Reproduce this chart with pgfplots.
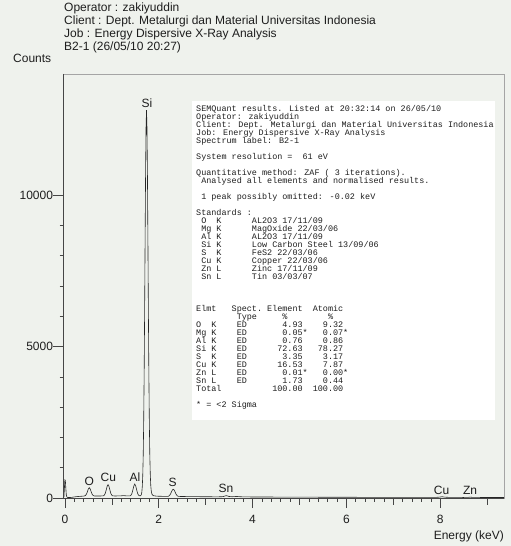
\documentclass[border=0pt]{standalone}
\usepackage{fontspec}
\setmainfont{Liberation Sans}
\newfontfamily\monofont{Liberation Mono}
\usepackage{pgfplots}
\usepackage{pgfplotstable}
\pgfplotsset{compat=1.18}
\definecolor{bgc}{RGB}{239,242,237}
\definecolor{axdark}{RGB}{70,70,70}
\definecolor{axlight}{RGB}{165,165,165}
\definecolor{txt}{RGB}{30,30,30}
\pgfplotstableread{
x y
-0.04 5
-0.03 8
-0.02 40
-0.01 320
0.00 600
0.01 580
0.02 330
0.03 110
0.04 40
0.06 18
0.10 15
0.15 22
0.20 35
0.25 45
0.30 52
0.35 58
0.40 62
0.42 70
0.44 85
0.46 128
0.48 208
0.50 298
0.52 340
0.54 298
0.56 208
0.58 128
0.60 85
0.62 70
0.64 66
0.70 66
0.76 67
0.82 71
0.84 92
0.86 151
0.88 260
0.90 383
0.92 440
0.94 383
0.96 260
0.98 151
1.00 92
1.02 71
1.06 67
1.12 68
1.20 72
1.25 80
1.30 72
1.39 72
1.41 94
1.43 156
1.45 270
1.47 400
1.49 460
1.51 400
1.53 270
1.55 156
1.57 94
1.59 74
1.60 72
1.61 75
1.62 85
1.63 110
1.64 195
1.65 375
1.66 740
1.67 1410
1.68 2510
1.69 4110
1.70 6180
1.71 8490
1.72 10670
1.73 12240
1.74 12810
1.75 12240
1.76 10670
1.77 8490
1.78 6180
1.79 4130
1.80 2540
1.81 1440
1.82 800
1.83 430
1.84 250
1.85 160
1.86 115
1.88 85
1.90 72
1.95 62
2.00 58
2.10 55
2.19 53
2.21 60
2.23 82
2.25 128
2.27 196
2.29 262
2.31 290
2.33 262
2.35 196
2.37 128
2.39 82
2.41 60
2.43 52
2.60 47
2.80 44
3.00 41
3.20 39
3.34 40
3.38 50
3.42 70
3.44 78
3.46 70
3.50 50
3.56 42
3.62 46
3.66 52
3.70 45
3.80 37
4.00 34
4.50 31
5.00 28
5.50 26
6.00 24
6.50 22
7.00 21
7.50 20
7.90 20
7.98 28
8.04 42
8.10 28
8.20 20
8.50 18
8.60 22
8.64 28
8.68 22
8.90 17
9.36 15
}\spectrum
\newcommand{\lbl}{\fontsize{12bp}{14bp}\selectfont}
\begin{document}
\begin{tikzpicture}
\begin{scope}[x=1bp,y=1bp]
\fill[bgc] (0,0) rectangle (511,546);
\fill[white] (192,126) rectangle (495,445);
\end{scope}
\begin{axis}[at={(63bp,48bp)}, anchor=south west,
  width=441bp, height=424bp, scale only axis,
  xmin=-0.04, xmax=9.36, ymin=0, ymax=14000,
  axis line style={axlight, line width=0.6bp},
  tick pos=left, tick align=outside,
  xtick={0,2,4,6,8}, ytick={0,5000,10000},
  scaled y ticks=false, scaled x ticks=false,
  minor x tick num=9, minor y tick num=4,
  major tick length=10bp, minor tick length=3.5bp,
  tick style={axdark, line width=0.5bp},
  extra x ticks={1,3,5,7,9}, extra x tick labels={},
  extra x tick style={major tick length=6.5bp, tick pos=left},
  ticklabel style={font=\lbl, text=txt},
  xticklabel style={yshift=-4bp},
  yticklabel style={xshift=3.5bp},
  /pgf/number format/assume math mode=true,
  /pgf/number format/set thousands separator={},
  clip=false]
\addplot[black!85, line width=0.6bp] table[x=x,y=y] {\spectrum};
\draw[axdark, line width=0.7bp] (rel axis cs:0,1) -- (rel axis cs:0,0) -- (rel axis cs:1,0);
\node[font=\lbl, text=txt] at (axis cs:1.751,13043) {Si};
\node[font=\lbl, text=txt] at (axis cs:0.52,538) {O};
\node[font=\lbl, text=txt] at (axis cs:0.926,670) {Cu};
\node[font=\lbl, text=txt] at (axis cs:1.495,683) {Al};
\node[font=\lbl, text=txt] at (axis cs:2.298,505) {S};
\node[font=\lbl, text=txt] at (axis cs:3.435,320) {Sn};
\node[font=\lbl, text=txt] at (axis cs:8.03,264) {Cu};
\node[font=\lbl, text=txt] at (axis cs:8.636,264) {Zn};
\end{axis}
\begin{scope}[x=1bp,y=1bp]
\node[anchor=west, font=\lbl, text=txt, inner sep=0] at (64,537.5) {Operator : zakiyuddin};
\node[anchor=west, font=\lbl, text=txt, inner sep=0] at (64,524.5) {Client : Dept. Metalurgi dan Material Universitas Indonesia};
\node[anchor=west, font=\lbl, text=txt, inner sep=0] at (64,511.5) {Job : Energy Dispersive X-Ray Analysis};
\node[anchor=west, font=\lbl, text=txt, inner sep=0] at (64,498.5) {B2-1 (26/05/10 20:27)};
\node[anchor=west, font=\lbl, text=txt, inner sep=0] at (13,488) {Counts};
\node[anchor=east, font=\lbl, text=txt, inner sep=0] at (504,10) {Energy (keV)};
\node[anchor=base west, inner sep=0, text=txt] at (196,434) {\parbox[t]{310bp}{\monofont\fontsize{8.45bp}{8bp}\selectfont\lineskiplimit=-\maxdimen\parindent=0pt\raggedright
SEMQuant results. Listed at 20:32:14 on 26/05/10\\
Operator: zakiyuddin\\
Client: Dept. Metalurgi dan Material Universitas Indonesia\\
Job: Energy Dispersive X-Ray Analysis\\
Spectrum label: B2-1\\
\mbox{}\\
System resolution =~~61 eV\\
\mbox{}\\
Quantitative method: ZAF ( 3 iterations).\\
~Analysed all elements and normalised results.\\
\mbox{}\\
~1 peak possibly omitted: -0.02 keV\\
\mbox{}\\
Standards :\\
~O~~K~~~~~~AL2O3 17/11/09\\
~Mg~K~~~~~~MagOxide 22/03/06\\
~Al~K~~~~~~AL2O3 17/11/09\\
~Si~K~~~~~~Low Carbon Steel 13/09/06\\
~S~~K~~~~~~FeS2 22/03/06\\
~Cu~K~~~~~~Copper 22/03/06\\
~Zn~L~~~~~~Zinc 17/11/09\\
~Sn~L~~~~~~Tin 03/03/07\\
\mbox{}\\
\mbox{}\\
\mbox{}\\
Elmt~~~Spect.~Element~~Atomic\\
~~~~~~~~Type~~~~~\%~~~~~~~~\%\\
O~~K~~~~ED~~~~~~~4.93~~~~9.32\\
Mg~K~~~~ED~~~~~~~0.05*~~~0.07*\\
Al~K~~~~ED~~~~~~~0.76~~~~0.86\\
Si~K~~~~ED~~~~~~72.63~~~78.27\\
S~~K~~~~ED~~~~~~~3.35~~~~3.17\\
Cu~K~~~~ED~~~~~~16.53~~~~7.87\\
Zn~L~~~~ED~~~~~~~0.01*~~~0.00*\\
Sn~L~~~~ED~~~~~~~1.73~~~~0.44\\
Total~~~~~~~~~~100.00~~100.00\\
\mbox{}\\
{*} = <2 Sigma}};
\end{scope}
\pgfresetboundingbox
\path[use as bounding box] (0,0) rectangle (511bp,546bp);
\end{tikzpicture}
\end{document}
